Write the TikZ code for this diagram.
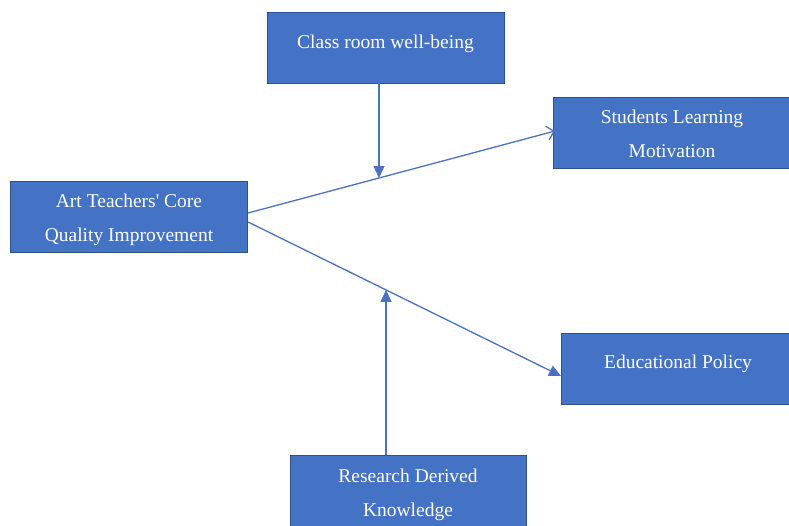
\documentclass[tikz,border=0pt]{standalone}
\usepackage{fontspec}
\setmainfont{Liberation Serif}
\usetikzlibrary{arrows.meta,calc}
\definecolor{boxfill}{HTML}{4472C4}
\definecolor{boxline}{HTML}{2F528F}
\definecolor{linkc}{HTML}{4A72C0}
\begin{document}
\begin{tikzpicture}[x=1pt,y=-1pt,
  box/.style={draw=boxline, line width=0.9pt, fill=boxfill,
    minimum width=237pt, minimum height=71pt, inner sep=0pt},
  txt/.style={text=white, inner sep=0pt, align=center,
    font=\fontsize{19.5}{34}\selectfont},
  link/.style={draw=linkc, line width=1.3pt},
  openhead/.style={-{Straight Barb[length=7pt,width=14pt,line width=1.3pt]}},
  fullhead/.style={-{Triangle[length=12pt,width=11pt]}}]
\useasboundingbox (0,0) rectangle (789,525);
\node[box] (cw) at (385.5,47.5) {};
\node[box] (slm) at (672,132.5) {};
\node[box] (atc) at (129,216.5) {};
\node[box, minimum width=228pt] (ep) at (675,368.5) {};
\node[box, minimum width=236pt] (rdk) at (408,491) {};
\node[txt] (cwt) at ($(cw.center)+(0,-4)$) {Class room well-being};
\node[txt] (slmt) at ($(slm.center)+(0,1)$) {Students Learning\\Motivation};
\node[txt] (atct) at ($(atc.center)+(0,3.5)$) {Art Teachers\textquotesingle{} Core\\Quality Improvement};
\node[txt] (ept) at ($(ep.center)+(3,-5)$) {Educational Policy};
\node[txt] (rdkt) at ($(rdk.center)+(0,3.5)$) {Research Derived\\Knowledge};
\coordinate (s1) at (248,213);
\coordinate (e1) at (555,131);
\coordinate (s2) at (248,222);
\coordinate (e2) at (561,376);
\coordinate (j1) at ($(s1)!0.4267!(e1)$);
\coordinate (j2) at ($(s2)!0.441!(e2)$);
\draw[link,openhead] (s1) -- (e1);
\draw[link,fullhead] (s2) -- (e2);
\draw[link,fullhead] (j1 |- cw.south) -- (j1);
\draw[link,fullhead] (j2 |- rdk.north) -- (j2);
\end{tikzpicture}
\end{document}
